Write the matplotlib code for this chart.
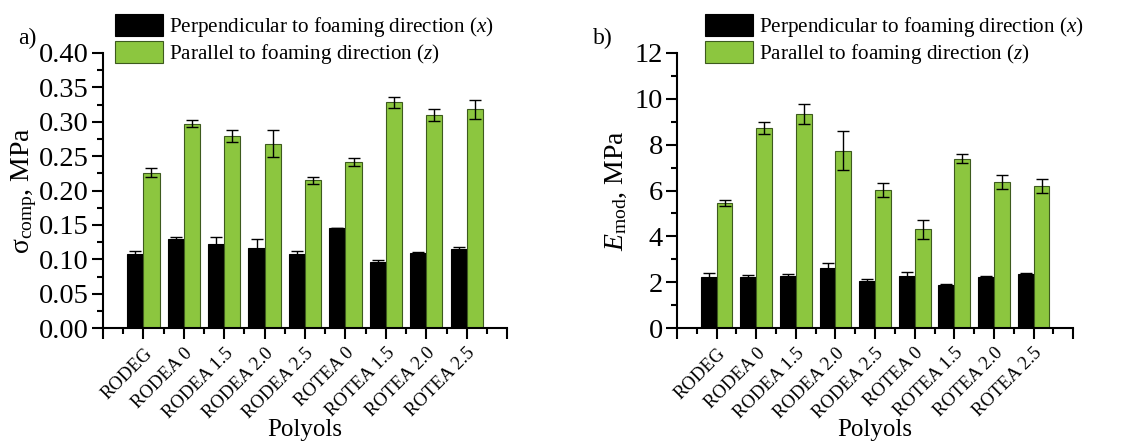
import numpy as np
import matplotlib
matplotlib.use("Agg")
import matplotlib.pyplot as plt
from matplotlib.ticker import MultipleLocator

# =============== DATA ==================
polyols = ["RODEG", "RODEA 0", "RODEA 1.5", "RODEA 2.0", "RODEA 2.5",
           "ROTEA 0", "ROTEA 1.5", "ROTEA 2.0", "ROTEA 2.5"]

sigma_x = [0.108, 0.129, 0.122, 0.117, 0.108, 0.146, 0.096, 0.109, 0.115]
sigma_x_err = [0.004, 0.003, 0.010, 0.012, 0.004, 0.0, 0.003, 0.001, 0.0025]
sigma_z = [0.226, 0.297, 0.279, 0.268, 0.215, 0.241, 0.328, 0.310, 0.318]
sigma_z_err = [0.007, 0.005, 0.009, 0.020, 0.005, 0.006, 0.008, 0.009, 0.014]

emod_x = [2.25, 2.25, 2.28, 2.60, 2.06, 2.28, 1.89, 2.25, 2.34]
emod_x_err = [0.17, 0.07, 0.10, 0.23, 0.07, 0.17, 0.04, 0.03, 0.07]
emod_z = [5.44, 8.74, 9.35, 7.74, 6.01, 4.30, 7.39, 6.36, 6.18]
emod_z_err = [0.13, 0.26, 0.43, 0.84, 0.30, 0.40, 0.20, 0.30, 0.31]

LABEL_X = "Perpendicular to foaming direction ($x$)"
LABEL_Z = "Parallel to foaming direction ($z$)"
# =======================================

GREEN = "#8cc63f"
FONT = "Liberation Serif"

plt.rcParams["font.family"] = FONT
plt.rcParams["mathtext.fontset"] = "custom"
plt.rcParams["mathtext.rm"] = FONT
plt.rcParams["mathtext.it"] = FONT + ":italic"
plt.rcParams["mathtext.bf"] = FONT + ":bold"


def draw_panel(ax, vx, ex, vz, ez, ymax, major, minor, ylabel, fmt, lpad):
    pos = np.arange(1, len(polyols) + 1)
    w = 0.4
    err_kw = dict(ecolor="black", elinewidth=1.0, capsize=4, capthick=1.0)
    ax.bar(pos - w / 2, vx, width=w, yerr=ex, color="black",
           edgecolor="black", linewidth=0.8, label=LABEL_X, error_kw=err_kw)
    ax.bar(pos + w / 2, vz, width=w, yerr=ez, color=GREEN,
           edgecolor="#3d5a1e", linewidth=0.8, label=LABEL_Z, error_kw=err_kw)

    ax.set_xlim(0, len(polyols) + 1)
    ax.set_ylim(0, ymax)
    ax.set_xticks(np.arange(0, len(polyols) + 2))
    ax.set_xticklabels([""] + polyols + [""], rotation=45, ha="right",
                       rotation_mode="anchor", fontsize=13.5)
    ax.xaxis.set_minor_locator(MultipleLocator(0.5))
    ax.yaxis.set_major_locator(MultipleLocator(major))
    ax.yaxis.set_minor_locator(MultipleLocator(minor))
    ax.yaxis.set_major_formatter(fmt)

    for s in ["top", "right"]:
        ax.spines[s].set_visible(False)
    for s in ["left", "bottom"]:
        ax.spines[s].set_linewidth(1.5)
    ax.tick_params(axis="both", which="major", direction="out", length=8,
                   width=1.5)
    ax.tick_params(axis="both", which="minor", direction="out", length=4,
                   width=1.5)
    ax.tick_params(axis="y", labelsize=20.5, pad=2)
    ax.tick_params(axis="x", pad=4)
    ax.set_xlabel("Polyols", fontsize=18, labelpad=-2)
    ax.set_ylabel(ylabel, fontsize=20, labelpad=lpad)


fig = plt.figure(figsize=(11.29, 4.41), dpi=100)
ax1 = fig.add_axes([0.0912, 0.256, 0.358, 0.624])
ax2 = fig.add_axes([0.5996, 0.256, 0.351, 0.624])

draw_panel(ax1, sigma_x, sigma_x_err, sigma_z, sigma_z_err, 0.40, 0.05, 0.025,
           r"σ$_{\mathrm{comp}}$, MPa", "{x:.2f}", 0)
draw_panel(ax2, emod_x, emod_x_err, emod_z, emod_z_err, 12, 2, 1,
           r"$E_{\mathrm{mod}}$, MPa", "{x:.0f}", 4)

for ax, x0 in [(ax1, 115), (ax2, 705)]:
    ax.legend(loc="upper left", bbox_to_anchor=(x0 / 1129, 1 - 14 / 441),
              bbox_transform=fig.transFigure, frameon=False, fontsize=15.2,
              handlelength=2.25, handleheight=1.2, handletextpad=0.3,
              labelspacing=0.12, borderpad=0, borderaxespad=0)

fig.text(27 / 1129, 1 - 38 / 441, "a)", fontsize=17, ha="center", va="center")
fig.text(603 / 1129, 1 - 38 / 441, "b)", fontsize=17, ha="center", va="center")

fig.savefig("out.png", dpi=100)
